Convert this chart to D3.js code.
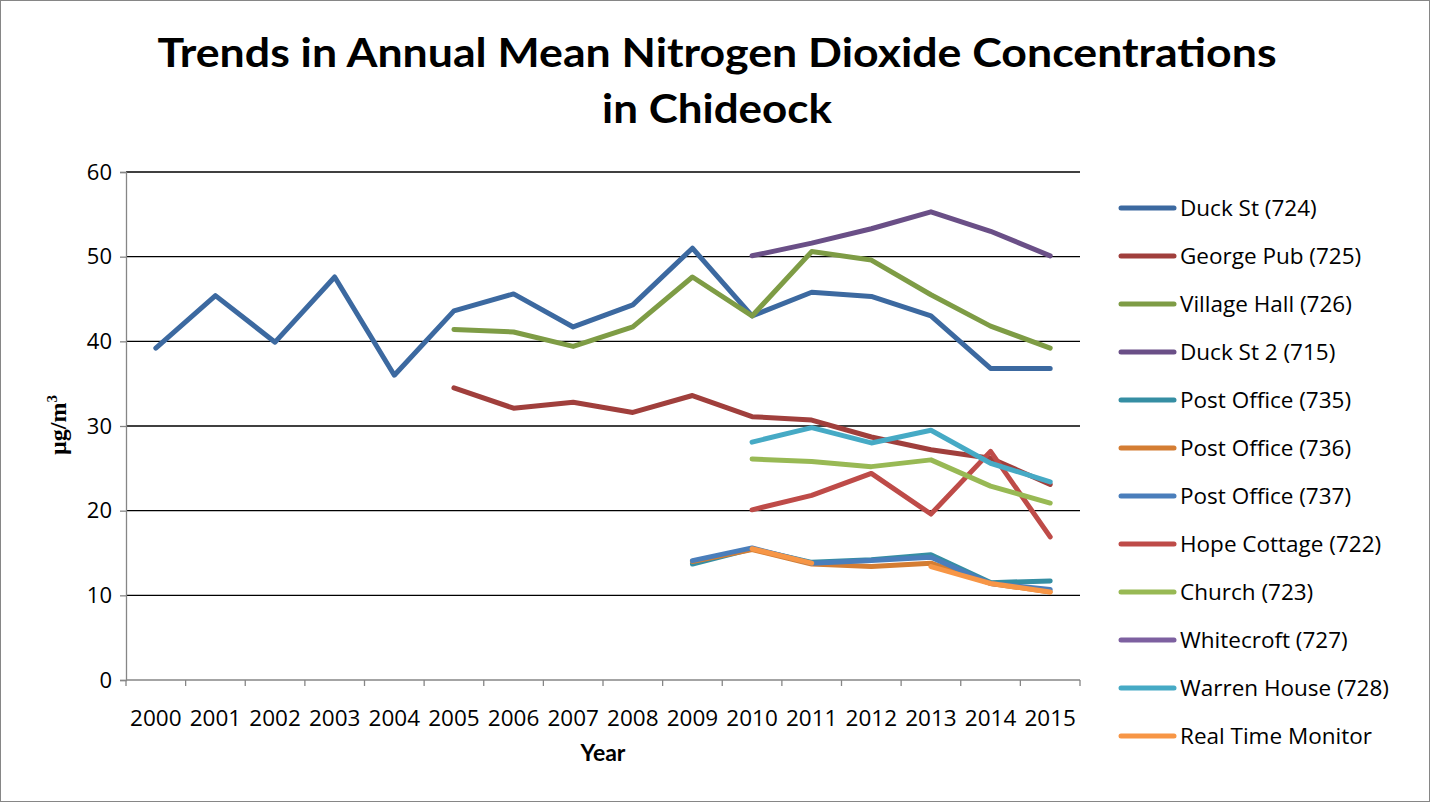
<!DOCTYPE html>
<html><head><meta charset="utf-8">
<script src="https://cdn.jsdelivr.net/npm/d3@7"></script>
<style>body{margin:0;background:#fff}svg{display:block}</style>
</head><body>
<svg id="chart" width="1431" height="803"></svg>
<script>
const years = ["2000","2001","2002","2003","2004","2005","2006","2007","2008","2009","2010","2011","2012","2013","2014","2015"];
const yTicks = [0,10,20,30,40,50,60];
const titleLines = ["Trends in Annual Mean Nitrogen Dioxide Concentrations","in Chideock"];
const seriesNames = ["Duck St (724)","George Pub (725)","Village Hall (726)","Duck St 2 (715)","Post Office (735)","Post Office (736)","Post Office (737)","Hope Cottage (722)","Church (723)","Whitecroft (727)","Warren House (728)","Real Time Monitor"];
const seriesColors = ["#3C69A0","#A03F3C","#7E9C45","#6A4F87","#358EA3","#D47D33","#4A7EBB","#BE4B48","#98B954","#7D60A0","#46AAC5","#F79646"];
const N = null;
const duckSt     = [39.2,45.4,39.9,47.6,36.0,43.6,45.6,41.7,44.3,51.0,43.0,45.8,45.3,43.0,36.8,36.8];
const georgePub  = [N,N,N,N,N,34.5,32.1,32.8,31.6,33.6,31.1,30.7,28.7,27.2,26.2,23.1];
const villageHall= [N,N,N,N,N,41.4,41.1,39.4,41.7,47.6,43.0,50.6,49.6,45.5,41.8,39.2];
const duckSt2    = [N,N,N,N,N,N,N,N,N,N,50.1,51.6,53.3,55.3,53.0,50.1];
const po735      = [N,N,N,N,N,N,N,N,N,13.7,15.5,13.9,14.2,14.8,11.5,11.7];
const po736      = [N,N,N,N,N,N,N,N,N,14.0,15.4,13.7,13.4,13.8,11.4,10.4];
const po737      = [N,N,N,N,N,N,N,N,N,14.1,15.6,13.8,14.1,14.5,11.4,10.7];
const hopeCottage= [N,N,N,N,N,N,N,N,N,N,20.1,21.8,24.4,19.6,27.0,16.9];
const church     = [N,N,N,N,N,N,N,N,N,N,26.1,25.8,25.2,26.0,22.9,20.9];
const whitecroft = [N,N,N,N,N,N,N,N,N,N,N,N,N,N,N,N];
const warrenHouse= [N,N,N,N,N,N,N,N,N,N,28.1,29.8,28.0,29.5,25.6,23.4];
const realTime   = [N,N,N,N,N,N,N,N,N,N,15.5,13.8,N,13.4,11.4,10.4];
const seriesValues = [duckSt,georgePub,villageHall,duckSt2,po735,po736,po737,hopeCottage,church,whitecroft,warrenHouse,realTime];

const svg = d3.select("#chart");
const font = "'Open Sans', sans-serif";
svg.append("rect").attr("x",0.5).attr("y",0.5).attr("width",1429).attr("height",801)
  .attr("fill","#fff").attr("stroke","#868686").attr("stroke-width",1);

const x = d3.scaleBand().domain(years).range([126,1080]);
const y = d3.scaleLinear().domain([0,60]).range([680,172]);

// gridlines
svg.append("g").selectAll("line").data(yTicks.filter(d=>d>0)).join("line")
  .attr("x1",126).attr("x2",1080).attr("y1",d=>y(d)).attr("y2",d=>y(d))
  .attr("stroke","#000").attr("stroke-width",1.3);

// y axis
const yAxis = svg.append("g").attr("transform","translate(126,0)")
  .call(d3.axisLeft(y).tickValues(yTicks).tickSize(6).tickPadding(8));
yAxis.select(".domain").attr("stroke","#868686").attr("stroke-width",1.3);
yAxis.selectAll(".tick line").attr("stroke","#868686").attr("stroke-width",1.3);
yAxis.selectAll("text").attr("font-family",font).attr("font-size",22).attr("fill","#000");

// x axis with ticks between categories
const xAxisG = svg.append("g").attr("transform","translate(0,680)");
xAxisG.append("line").attr("x1",126).attr("x2",1080).attr("stroke","#868686").attr("stroke-width",1.3);
const bounds = years.map(d=>x(d)).concat([x.range()[1]]);
xAxisG.selectAll("line.t").data(bounds).join("line").attr("class","t")
  .attr("x1",d=>d).attr("x2",d=>d).attr("y1",0).attr("y2",6)
  .attr("stroke","#868686").attr("stroke-width",1.3);
xAxisG.selectAll("text").data(years).join("text")
  .attr("x",d=>x(d)+x.bandwidth()/2).attr("y",46)
  .attr("text-anchor","middle").attr("font-family",font).attr("font-size",22.5).text(d=>d);

// lines
const line = d3.line().defined(d=>d.v!==null).x(d=>x(d.yr)+x.bandwidth()/2).y(d=>y(d.v));
const gl = svg.append("g");
seriesValues.forEach((vals,i)=>{
  const pts = vals.map((v,j)=>({yr:years[j],v}));
  gl.append("path").attr("d",line(pts)).attr("fill","none")
    .attr("stroke",seriesColors[i]).attr("stroke-width",5)
    .attr("stroke-linejoin","round").attr("stroke-linecap","round");
});

// legend
const lg = svg.append("g");
seriesNames.forEach((n,i)=>{
  const cy = 208 + i*48;
  lg.append("line").attr("x1",1121).attr("x2",1174).attr("y1",cy).attr("y2",cy)
    .attr("stroke",seriesColors[i]).attr("stroke-width",5).attr("stroke-linecap","round");
  lg.append("text").attr("x",1180).attr("y",cy+8).attr("font-family",font).attr("font-size",22.5).text(n);
});

// title
svg.append("text").attr("x",717).attr("y",67).attr("text-anchor","middle")
  .attr("font-family","Lato, sans-serif").attr("font-weight","bold").attr("font-size",40)
  .attr("textLength",1119).attr("lengthAdjust","spacingAndGlyphs").text(titleLines[0]);
svg.append("text").attr("x",717).attr("y",123).attr("text-anchor","middle")
  .attr("font-family","Lato, sans-serif").attr("font-weight","bold").attr("font-size",40)
  .attr("textLength",230).attr("lengthAdjust","spacingAndGlyphs").text(titleLines[1]);

// axis titles
svg.append("text").attr("x",603).attr("y",761).attr("text-anchor","middle")
  .attr("font-family","Lato, sans-serif").attr("font-weight","bold").attr("font-size",23).text("Year");
const yt = svg.append("text").attr("transform","translate(66,425) rotate(-90)").attr("text-anchor","middle")
  .attr("font-family","'Liberation Serif', serif").attr("font-weight","bold").attr("font-size",24);
yt.append("tspan").text("µg/m");
yt.append("tspan").attr("font-size",15).attr("dy",-9).text("3");
</script>
</body></html>
